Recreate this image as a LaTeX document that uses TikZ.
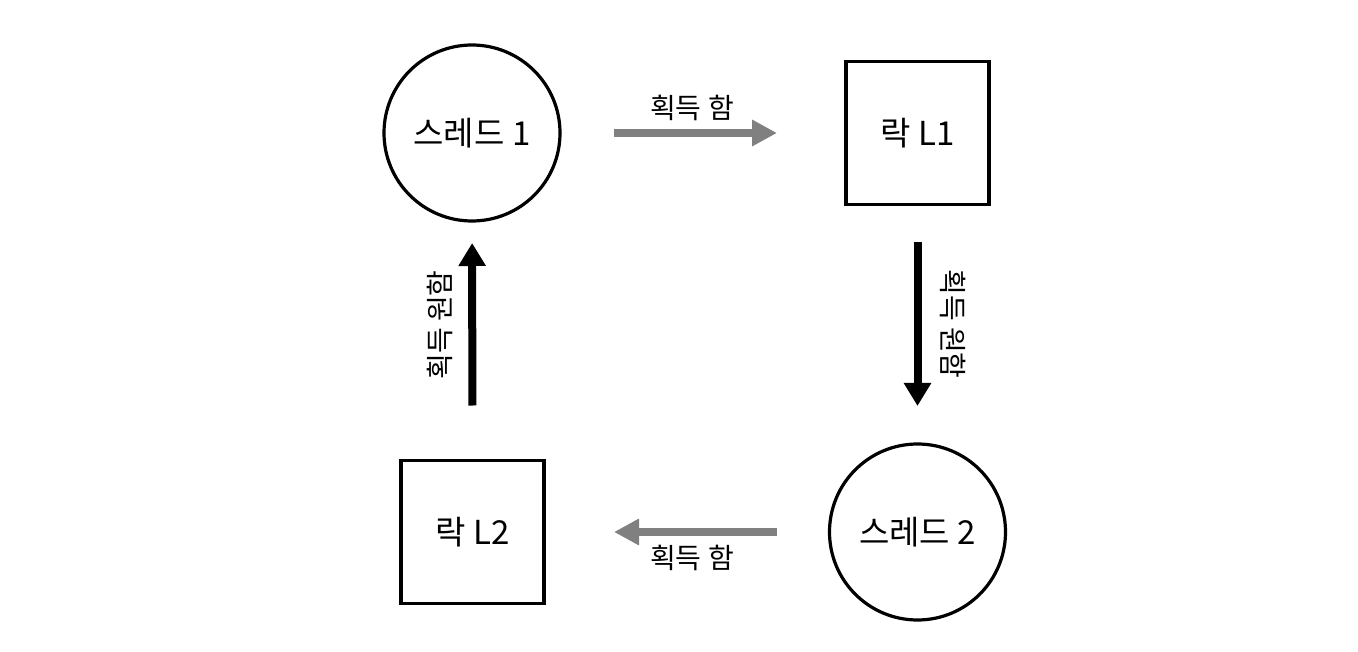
\documentclass[tikz,border=0pt]{standalone}
\usepackage{fontspec}
\setmainfont{Noto Sans CJK KR}
\usepackage{tikz}
\usetikzlibrary{arrows.meta,positioning}
\usepackage{xcolor}
\definecolor{LockGray}{HTML}{808080}
\definecolor{InkBlack}{HTML}{000000}

\begin{document}
\begin{tikzpicture}[x=1pt,y=-1pt,every node/.style={font=\fontsize{33}{38}\selectfont},
    thread/.style={draw=InkBlack,line width=3.2pt,circle,minimum size=176pt,inner sep=0pt,outer sep=0pt},
    lockbox/.style={draw=InkBlack,line width=3.2pt,rectangle,minimum size=143pt,inner sep=0pt,outer sep=0pt},
    heldarrow/.style={draw=LockGray,line width=8pt,-{Triangle[length=25pt,width=25pt]}},
    wantarrow/.style={draw=InkBlack,line width=8pt,-{Triangle[length=23pt,width=26pt]}},
    edgelabel/.style={font=\fontsize{28}{32}\selectfont,inner sep=0pt}]
  \useasboundingbox (0,0) rectangle (1358,652);
  \node[thread] (t1) at (472,133) {스레드 1};
  \node[lockbox] (l1) at (917.5,133) {락 L1};
  \node[thread] (t2) at (917.5,532) {스레드 2};
  \node[lockbox] (l2) at (472.5,532) {락 L2};
  \draw[heldarrow,shorten <=54pt,shorten >=69pt] (t1) -- (l1);
  \draw[wantarrow,shorten <=38pt,shorten >=38pt] (l1) -- (t2);
  \draw[heldarrow,shorten <=53pt,shorten >=70pt] (t2) -- (l2);
  \draw[wantarrow,shorten <=55pt,shorten >=22pt] (l2) -- (t1);
  \node[edgelabel] (h1) at (692,108) {획득 함};
  \node[edgelabel,rotate=-90] (w1) at (953,324) {획득 원함};
  \node[edgelabel] (h2) at (692,558) {획득 함};
  \node[edgelabel,rotate=90] (w2) at (440,325) {획득 원함};
\end{tikzpicture}
\end{document}
